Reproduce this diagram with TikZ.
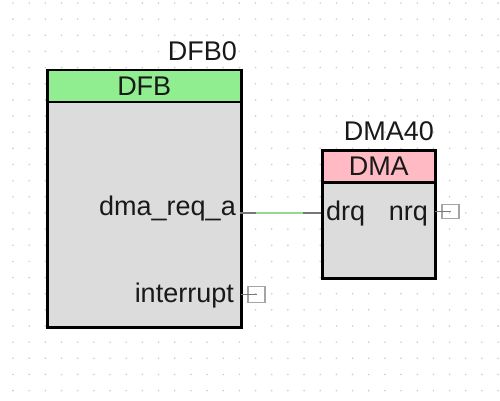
\documentclass[tikz,border=0pt]{standalone}
\usepackage{fontspec}
\setmainfont{Liberation Sans}
\definecolor{hdrgreen}{RGB}{144,238,144}
\definecolor{hdrpink}{RGB}{255,186,196}
\definecolor{bodygray}{RGB}{220,220,220}
\definecolor{dotgray}{RGB}{205,205,205}
\definecolor{wiregray}{RGB}{120,120,120}
\definecolor{wiregreen}{RGB}{150,215,150}
\definecolor{termgray}{RGB}{165,165,165}
\definecolor{txt}{RGB}{25,25,25}
\begin{document}
\begin{tikzpicture}[x=1pt,y=-1pt,
  every node/.style={font=\fontsize{27}{30}\selectfont, text=txt, inner sep=0pt},
  compbody/.style={draw=black, line width=2.5pt, fill=bodygray, anchor=north west},
  comphead/.style={draw=black, line width=2.5pt, anchor=north west},
  term/.style={draw=termgray, line width=1.2pt, anchor=center},
  wire/.style={draw=wiregray, line width=1.3pt}]
\useasboundingbox (0,0) rectangle (500,401);
\fill[white] (0,0) rectangle (500,401);
% dot grid
\foreach \i in {0,...,30}{
  \foreach \j in {0,...,24}{
    \fill[dotgray] (13+16.17*\i, 3+16.15*\j) circle (0.9);
  }
}
% DFB component
\node[compbody, minimum width=194pt, minimum height=257pt] (dfb) at (46,69) {};
\node[comphead, fill=hdrgreen, minimum width=194pt, minimum height=32pt] (dfbh) at (46,69) {DFB};
\node[anchor=base east] (dfbname) at (237,60.5) {DFB0};
\node[anchor=base east] (reqa) at (236,215) {dma\_req\_a};
\node[anchor=base east] (intr) at (234,302) {interrupt};
% DMA component
\node[compbody, minimum width=113pt, minimum height=128pt] (dma) at (321,149) {};
\node[comphead, fill=hdrpink, minimum width=113pt, minimum height=32pt] (dmah) at (321,149) {DMA};
\node[anchor=base east] (dmaname) at (434,140) {DMA40};
\node[anchor=base west] (drq) at (326,220) {drq};
\node[anchor=base east] (nrq) at (428,220) {nrq};
% ports
\coordinate (preqa) at (240,213);
\coordinate (pdrq) at (321,213);
\coordinate (gA) at (256,213);
\coordinate (gB) at (303,213);
\coordinate (pnrq) at (435,211.5);
\coordinate (pint) at (241,294.5);
% wire
\draw[wire] (preqa) -- (pdrq);
\draw[draw=wiregreen, line width=1.4pt] (gA) -- (gB);
% terminals
\node[term, minimum width=17pt, minimum height=14pt] (tnrq) at (450.5,211.5) {};
\node[term, minimum width=17pt, minimum height=16pt] (tint) at (256.5,294.5) {};
\draw[draw=wiregray, line width=1.2pt] (pnrq) -- (tnrq.center);
\draw[draw=wiregray, line width=1.2pt] (pint) -- (tint.center);
\end{tikzpicture}
\end{document}
